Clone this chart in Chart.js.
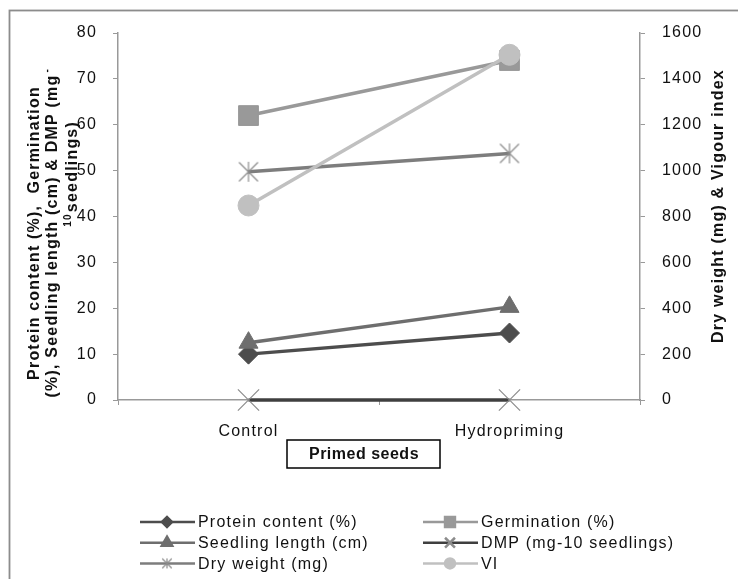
<!DOCTYPE html>
<html>
<head>
<meta charset="utf-8">
<script src="https://cdn.jsdelivr.net/npm/chart.js@4"></script>
<style>
html, body { margin: 0; padding: 0; background: #fff; }
</style>
</head>
<body>
<canvas id="myChart" width="738" height="579"></canvas>
<script>
// data
const categories = ['Control', 'Hydropriming'];
const protein = [10, 14.6];          // left axis
const germination = [62, 74];        // left axis
const seedlingLength = [12.5, 20.3]; // left axis
const dmp = [0, 0];                  // left axis
const dryWeight = [995, 1075];       // right axis
const vigourIndex = [848, 1505];     // right axis
const leftTicks = [0, 80, 10];       // min, max, step
const rightTicks = [0, 1600, 200];

const LS = '1.2px';

function asterisk(size, color) {
  const c = document.createElement('canvas');
  c.width = size; c.height = size;
  const g = c.getContext('2d');
  const h = size / 2, d = h - 1;
  g.strokeStyle = color; g.lineWidth = 1.2;
  g.beginPath();
  g.moveTo(h, h - d); g.lineTo(h, h + d);
  g.moveTo(h - d * 0.95, h - d * 0.95); g.lineTo(h + d * 0.95, h + d * 0.95);
  g.moveTo(h + d * 0.95, h - d * 0.95); g.lineTo(h - d * 0.95, h + d * 0.95);
  g.stroke();
  return c;
}

Chart.defaults.font.family = '"Liberation Sans", Arial, sans-serif';
Chart.defaults.font.size = 16;
Chart.defaults.color = '#111';

const extras = {
  id: 'extras',
  beforeUpdate(chart) { chart.ctx.letterSpacing = LS; },
  beforeDraw(chart) {
    const ctx = chart.ctx;
    ctx.letterSpacing = LS;
    ctx.save();
    ctx.strokeStyle = '#8c8c8c';
    ctx.lineWidth = 1.8;
    ctx.strokeRect(9.5, 10.5, 760, 600);
    ctx.restore();
  },
  afterDraw(chart) {
    const ctx = chart.ctx;
    ctx.save();
    ctx.letterSpacing = LS;
    ctx.fillStyle = '#111';
    ctx.textBaseline = 'middle';

    // left title
    ctx.font = 'bold 16px "Liberation Sans", Arial, sans-serif';
    function rot(text, x, y, align) {
      ctx.save();
      ctx.translate(x, y);
      ctx.rotate(-Math.PI / 2);
      ctx.textAlign = align;
      ctx.fillText(text, 0, 0);
      ctx.restore();
    }
    rot('Protein content (%),  Germination', 35, 233, 'center');
    const l2 = '(%), Seedling length (cm) & DMP (mg';
    rot(l2, 53, 236, 'center');
    const w2 = ctx.measureText(l2).width;
    ctx.save();
    ctx.font = 'bold 10px "Liberation Sans", Arial, sans-serif';
    rot('-', 47, 236 - w2 / 2 - 2, 'left');
    ctx.restore();
    rot('seedlings)', 73, 121, 'right');
    const w3 = ctx.measureText('seedlings)').width;
    ctx.save();
    ctx.font = 'bold 10px "Liberation Sans", Arial, sans-serif';
    rot('10', 68, 121 + w3 + 1, 'right');
    ctx.restore();

    // right title
    ctx.font = 'bold 16px "Liberation Sans", Arial, sans-serif';
    rot('Dry weight (mg) & Vigour index', 719, 206, 'center');

    // x axis title in a box
    ctx.strokeStyle = '#000';
    ctx.lineWidth = 1.5;
    ctx.strokeRect(287, 440, 153, 28);
    ctx.letterSpacing = '0.5px';
    ctx.textAlign = 'center';
    ctx.fillText('Primed seeds', 364, 455);
    ctx.letterSpacing = LS;

    // legend
    ctx.font = '16px "Liberation Sans", Arial, sans-serif';
    ctx.textAlign = 'left';
    chart.data.datasets.forEach((ds, i) => {
      const col = i % 2, row = Math.floor(i / 2);
      const x0 = col ? 423 : 140;
      const y = 522 + row * 20.7;
      ctx.strokeStyle = ds.borderColor;
      ctx.lineWidth = 2.5;
      ctx.beginPath();
      ctx.moveTo(x0, y); ctx.lineTo(x0 + 55, y);
      ctx.stroke();
      ctx.fillStyle = ds.pointBackgroundColor;
      ctx.strokeStyle = ds.pointBorderColor;
      Chart.helpers.drawPoint(ctx, {
        pointStyle: ds.legendStyle || ds.pointStyle,
        radius: ds.legendRadius,
        borderWidth: ds.pointBorderWidth,
        rotation: 0
      }, x0 + 27, y);
      ctx.fillStyle = '#111';
      ctx.fillText(ds.label, x0 + 58, y + 1);
    });
    ctx.restore();
  }
};

const plain = v => String(v);

const ctx = document.getElementById('myChart').getContext('2d');
const myChart = new Chart(ctx, {
  type: 'line',
  data: {
    labels: categories,
    datasets: [{
      label: 'Protein content (%)',
      data: protein, yAxisID: 'y', order: 5,
      borderColor: '#4d4d4d', borderWidth: 3.5,
      pointStyle: 'rectRot', pointRadius: 10, legendRadius: 5,
      pointBackgroundColor: '#4d4d4d', pointBorderColor: '#4d4d4d', pointBorderWidth: 1
    }, {
      label: 'Germination (%)',
      data: germination, yAxisID: 'y', order: 4,
      borderColor: '#999999', borderWidth: 3.5,
      pointStyle: 'rect', pointRadius: 14, legendRadius: 7,
      pointBackgroundColor: '#999999', pointBorderColor: '#999999', pointBorderWidth: 1
    }, {
      label: 'Seedling length (cm)',
      data: seedlingLength, yAxisID: 'y', order: 3,
      borderColor: '#6e6e6e', borderWidth: 3.5,
      pointStyle: 'triangle', pointRadius: 11, legendRadius: 6,
      pointBackgroundColor: '#6e6e6e', pointBorderColor: '#6e6e6e', pointBorderWidth: 1
    }, {
      label: 'DMP (mg-10 seedlings)',
      data: dmp, yAxisID: 'y', order: 2,
      borderColor: '#3f3f3f', borderWidth: 3.5,
      pointStyle: 'crossRot', pointRadius: 15, legendRadius: 7,
      pointBackgroundColor: '#8c8c8c', pointBorderColor: '#8c8c8c', pointBorderWidth: 1.2
    }, {
      label: 'Dry weight (mg)',
      data: dryWeight, yAxisID: 'y1', order: 1,
      borderColor: '#7d7d7d', borderWidth: 3.5,
      pointStyle: asterisk(22, '#8c8c8c'), legendStyle: asterisk(12, '#8c8c8c'),
      pointRadius: 11, legendRadius: 6,
      pointBackgroundColor: '#8c8c8c', pointBorderColor: '#8c8c8c', pointBorderWidth: 1.2
    }, {
      label: 'VI',
      data: vigourIndex, yAxisID: 'y1', order: 0,
      borderColor: '#c0c0c0', borderWidth: 3.5,
      pointStyle: 'circle', pointRadius: 10.5, legendRadius: 5,
      pointBackgroundColor: '#c0c0c0', pointBorderColor: '#c0c0c0', pointBorderWidth: 1
    }]
  },
  options: {
    responsive: false,
    animation: false,
    devicePixelRatio: 1,
    clip: false,
    layout: { padding: { top: 33, left: 0, right: 0, bottom: 0 } },
    plugins: { legend: { display: false }, tooltip: { enabled: false } },
    scales: {
      x: {
        offset: true,
        grid: { offset: true, drawOnChartArea: false, tickLength: 5, color: '#999' },
        border: { color: '#999', width: 1.5 },
        ticks: { padding: 17, color: '#111' },
        afterFit(s) { s.height = 179; }
      },
      y: {
        position: 'left',
        min: leftTicks[0], max: leftTicks[1],
        ticks: { stepSize: leftTicks[2], padding: 16, color: '#111', callback: plain },
        grid: { drawOnChartArea: false, tickLength: 5, color: '#999' },
        border: { color: '#999', width: 1.5 },
        afterFit(s) { s.width = 118; }
      },
      y1: {
        position: 'right',
        min: rightTicks[0], max: rightTicks[1],
        ticks: { stepSize: rightTicks[2], padding: 17, color: '#111', callback: plain },
        grid: { drawOnChartArea: false, tickLength: 5, color: '#999' },
        border: { color: '#999', width: 1.5 },
        afterFit(s) { s.width = 98; }
      }
    }
  },
  plugins: [extras]
});
</script>
</body>
</html>
